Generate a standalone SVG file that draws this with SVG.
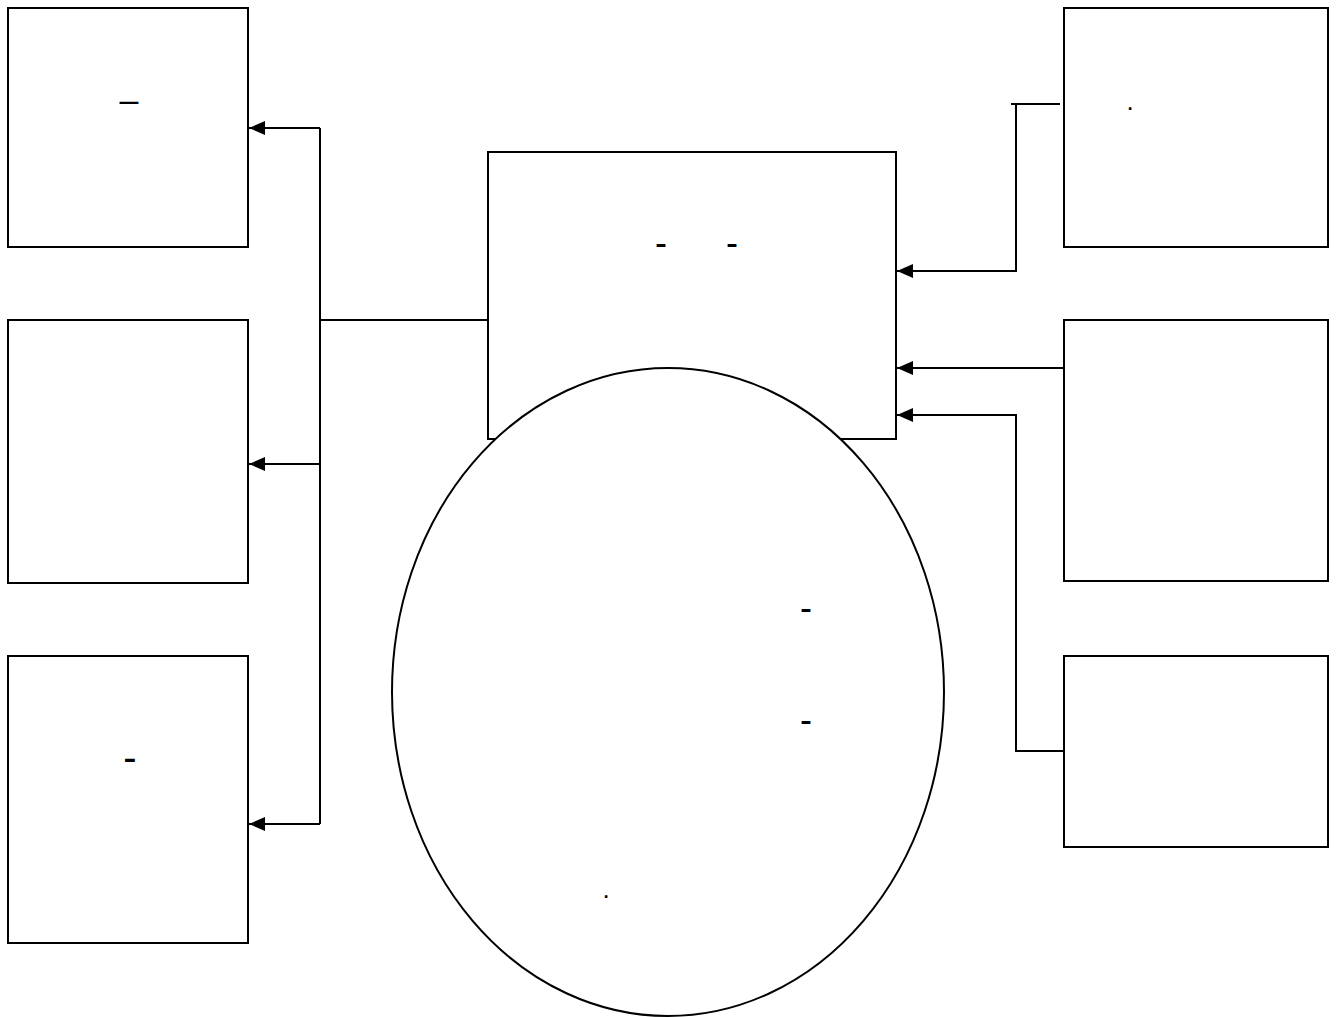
<svg xmlns="http://www.w3.org/2000/svg" width="1341" height="1017" viewBox="0 0 1341 1017">
<style>
.box{fill:#fff;stroke:#000;stroke-width:2}
.ln{fill:none;stroke:#000;stroke-width:2}
.t{font-family:"Liberation Sans",Arial,sans-serif;fill:#000;text-anchor:middle}
</style>
<defs>
<marker id="ah" markerWidth="16" markerHeight="14" refX="16" refY="7" orient="auto" markerUnits="userSpaceOnUse">
<path d="M0,0 L16,7 L0,14 Z" fill="#000"/>
</marker>
</defs>
<rect width="1341" height="1017" fill="#fff"/>
<g id="connectors">
<path class="ln" d="M488,320 H320"/>
<path class="ln" d="M320,128 V824"/>
<path class="ln" d="M320,128 H249" marker-end="url(#ah)"/>
<path class="ln" d="M320,464 H249" marker-end="url(#ah)"/>
<path class="ln" d="M320,824 H249" marker-end="url(#ah)"/>
<path class="ln" d="M1060,104 H1011"/>
<path class="ln" d="M1016,104 V271 H897" marker-end="url(#ah)"/>
<path class="ln" d="M1064,368 H897" marker-end="url(#ah)"/>
<path class="ln" d="M1064,751 H1016 V415 H897" marker-end="url(#ah)"/>
</g>
<g id="left1"><rect class="box" x="8" y="8" width="240" height="239"/><text class="t" x="129" y="111" font-size="34">–</text></g>
<g id="left2"><rect class="box" x="8" y="320" width="240" height="263"/></g>
<g id="left3"><rect class="box" x="8" y="656" width="240" height="287"/><text class="t" x="130" y="771" font-size="40">-</text></g>
<g id="right1"><rect class="box" x="1064" y="8" width="264" height="239"/><text class="t" x="1130" y="110" font-size="26">.</text></g>
<g id="right2"><rect class="box" x="1064" y="320" width="264" height="261"/></g>
<g id="right3"><rect class="box" x="1064" y="656" width="264" height="191"/></g>
<g id="center"><rect class="box" x="488" y="152" width="408" height="287"/><text class="t" x="661" y="255" font-size="36">-</text><text class="t" x="732" y="255" font-size="36">-</text></g>
<g id="ellipse"><ellipse class="box" cx="668" cy="692" rx="276" ry="324"/><text class="t" x="806" y="620" font-size="36">-</text><text class="t" x="806" y="732" font-size="36">-</text><text class="t" x="606" y="898" font-size="26">.</text></g>
</svg>
